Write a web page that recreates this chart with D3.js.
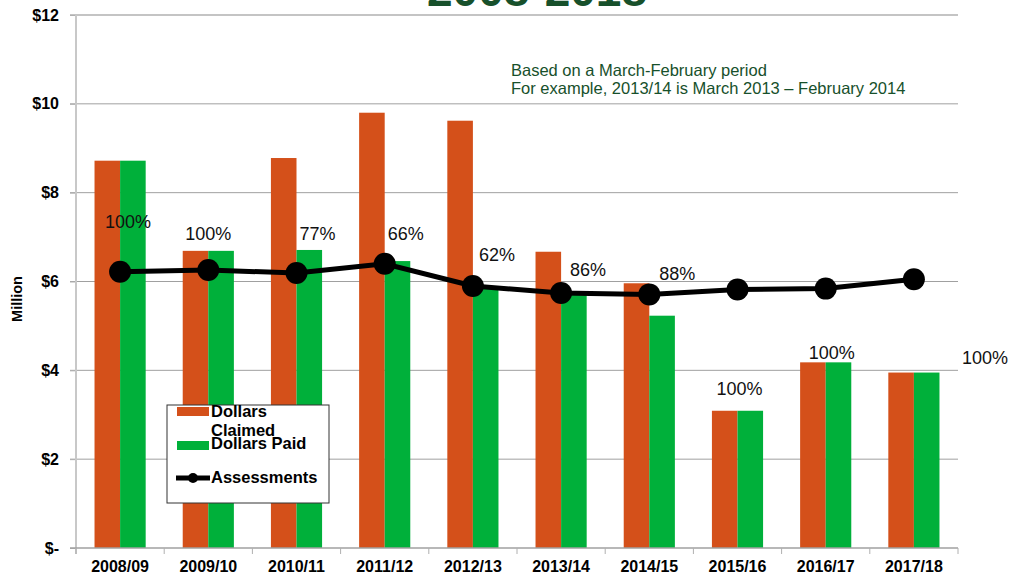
<!DOCTYPE html>
<html>
<head>
<meta charset="utf-8">
<script src="https://cdn.jsdelivr.net/npm/d3@7"></script>
<style>
  body { margin: 0; background: #fff; }
  svg { font-family: Arial, "Liberation Sans", sans-serif; }
</style>
</head>
<body>
<div id="chart"></div>
<script>
// chart values (millions of dollars)
const years = ["2008/09", "2009/10", "2010/11", "2011/12", "2012/13", "2013/14", "2014/15", "2015/16", "2016/17", "2017/18"];
const claimed = [8.72, 6.69, 8.78, 9.80, 9.62, 6.67, 5.96, 3.09, 4.18, 3.95];
const paid = [8.72, 6.69, 6.71, 6.46, 5.86, 5.70, 5.23, 3.09, 4.18, 3.95];
const assessments = [6.22, 6.26, 6.19, 6.40, 5.90, 5.74, 5.71, 5.82, 5.84, 6.05];
const pctLabels = ["100%", "100%", "77%", "66%", "62%", "86%", "88%", "100%", "100%", "100%"];
const yTicks = [0, 2, 4, 6, 8, 10, 12];

// where Excel's hand-moved labels ended up, relative to each line point (px)
const labelNudge = [[8, -50], [0, -36], [21, -39], [21, -30], [24, -31], [27, -23], [28, -21], [2, 99], [6, 64], [71, 78]];

const W = 1011, H = 579;
const margin = { left: 76, right: 53, top: 15, bottom: 31 };
const ORANGE = "#d4501a", GREEN = "#00b03a", DKGREEN = "#17502b";

const svg = d3.select("#chart").append("svg")
    .attr("width", W)
    .attr("height", H);

const xScale = d3.scaleBand()
    .domain(years)
    .range([margin.left, W - margin.right])
    .paddingInner(0.42)
    .paddingOuter(0.21);
const step = xScale.step();
const yScale = d3.scaleLinear()
    .domain([0, 12])
    .range([H - margin.bottom, margin.top]);

// title, mostly cut off at the top of the frame
svg.append("text")
    .attr("x", 537).attr("y", 6)
    .attr("text-anchor", "middle")
    .attr("font-size", 46).attr("font-weight", "bold")
    .attr("fill", DKGREEN)
    .text("2008-2018");

// gridlines
svg.append("g")
    .selectAll("line")
    .data(yTicks.filter((d) => d > 0))
    .enter()
    .append("line")
    .attr("x1", margin.left - 6).attr("x2", W - margin.right)
    .attr("y1", (d) => yScale(d)).attr("y2", (d) => yScale(d))
    .attr("stroke", (d) => d === 12 ? "#c4c4c4" : "#a0a0a0")
    .attr("stroke-width", (d) => d === 12 ? 2 : 1);

// y axis
const yAxis = d3.axisLeft(yScale)
    .tickValues(yTicks)
    .tickSize(6)
    .tickPadding(11)
    .tickFormat((d) => d === 0 ? "$-" : "$" + d);
svg.append("g")
    .attr("class", "y axis")
    .attr("transform", `translate(${margin.left},0)`)
    .call(yAxis)
    .call((g) => g.select(".domain").remove())
    .call((g) => g.selectAll("line").attr("stroke", "#b0b0b0"))
    .call((g) => g.selectAll("text")
        .attr("font-size", 16).attr("font-weight", "bold").attr("fill", "#000")
        .attr("font-family", "Arial, 'Liberation Sans', sans-serif"));
svg.append("line")
    .attr("x1", margin.left).attr("x2", margin.left)
    .attr("y1", margin.top).attr("y2", yScale(0) + 6)
    .attr("stroke", "#c8c8c8").attr("stroke-width", 2);

svg.append("text")
    .attr("transform", "translate(22,299) rotate(-90)")
    .attr("text-anchor", "middle")
    .attr("font-size", 14.5).attr("font-weight", "bold")
    .text("Million");

// bars
const bars = svg.append("g");
bars.selectAll(".claimed")
    .data(years)
    .enter()
    .append("rect")
    .attr("class", "claimed")
    .attr("x", (d) => xScale(d))
    .attr("y", (d, i) => yScale(claimed[i]))
    .attr("width", xScale.bandwidth() / 2)
    .attr("height", (d, i) => yScale(0) - yScale(claimed[i]))
    .attr("fill", ORANGE);
bars.selectAll(".paid")
    .data(years)
    .enter()
    .append("rect")
    .attr("class", "paid")
    .attr("x", (d) => xScale(d) + xScale.bandwidth() / 2)
    .attr("y", (d, i) => yScale(paid[i]))
    .attr("width", xScale.bandwidth() / 2)
    .attr("height", (d, i) => yScale(0) - yScale(paid[i]))
    .attr("fill", GREEN);

// x axis
const xAxisG = svg.append("g")
    .attr("class", "x axis")
    .attr("transform", `translate(0,${yScale(0)})`);
xAxisG.append("line")
    .attr("x1", margin.left - 6).attr("x2", W - margin.right)
    .attr("stroke", "#a0a0a0").attr("stroke-width", 1.5);
xAxisG.selectAll(".tick")
    .data(d3.range(years.length + 1))
    .enter()
    .append("line")
    .attr("x1", (i) => margin.left + i * step).attr("x2", (i) => margin.left + i * step)
    .attr("y1", 0).attr("y2", 6)
    .attr("stroke", "#b0b0b0");
xAxisG.selectAll("text")
    .data(years)
    .enter()
    .append("text")
    .attr("x", (d) => xScale(d) + xScale.bandwidth() / 2)
    .attr("y", 24)
    .attr("text-anchor", "middle")
    .attr("font-size", 16).attr("font-weight", "bold")
    .text((d) => d);

// assessments line
const cx = (i) => xScale(years[i]) + xScale.bandwidth() / 2;
const line = d3.line().x((d, i) => cx(i)).y((d) => yScale(d));
svg.append("path")
    .attr("d", line(assessments))
    .attr("fill", "none")
    .attr("stroke", "#000")
    .attr("stroke-width", 5);
svg.append("g")
    .selectAll("circle")
    .data(assessments)
    .enter()
    .append("circle")
    .attr("cx", (d, i) => cx(i))
    .attr("cy", (d) => yScale(d))
    .attr("r", 11)
    .attr("fill", "#000");

// percent paid labels
svg.append("g")
    .selectAll("text")
    .data(pctLabels)
    .enter()
    .append("text")
    .attr("x", (d, i) => cx(i) + labelNudge[i][0])
    .attr("y", (d, i) => yScale(assessments[i]) + labelNudge[i][1])
    .attr("dy", "0.35em")
    .attr("text-anchor", "middle")
    .attr("font-size", 18)
    .attr("fill", "#111")
    .text((d) => d);

// note
const note = svg.append("text")
    .attr("x", 511).attr("y", 76)
    .attr("font-size", 16.5)
    .attr("fill", DKGREEN);
note.append("tspan").attr("x", 511).text("Based on a March-February period");
note.append("tspan").attr("x", 511).attr("dy", 18).text("For example, 2013/14 is March 2013 \u2013 February 2014");

// legend
const lg = svg.append("g").attr("transform", "translate(167,405)");
lg.append("rect")
    .attr("width", 162).attr("height", 98)
    .attr("fill", "#fff").attr("stroke", "#333").attr("stroke-width", 1);
lg.append("rect").attr("x", 10).attr("y", 2).attr("width", 32).attr("height", 9).attr("fill", ORANGE);
lg.append("rect").attr("x", 10).attr("y", 36).attr("width", 32).attr("height", 9).attr("fill", GREEN);
lg.append("line").attr("x1", 9).attr("x2", 43).attr("y1", 73).attr("y2", 73)
    .attr("stroke", "#000").attr("stroke-width", 5);
lg.append("circle").attr("cx", 26).attr("cy", 73).attr("r", 5).attr("fill", "#000");
const lgText = [["Dollars", 12], ["Claimed", 31], ["Dollars Paid", 44], ["Assessments", 78]];
lg.selectAll(".lt")
    .data(lgText)
    .enter()
    .append("text")
    .attr("x", 44)
    .attr("y", (d) => d[1])
    .attr("font-size", 16.5).attr("font-weight", "bold")
    .text((d) => d[0]);
</script>
</body>
</html>
